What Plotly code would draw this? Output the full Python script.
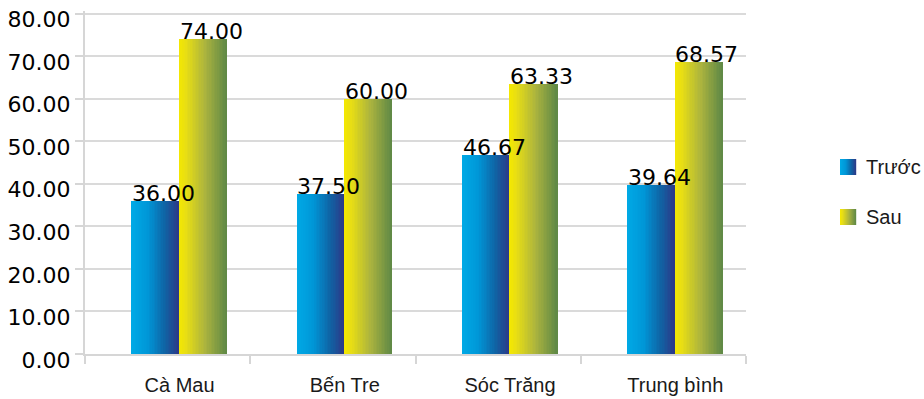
import plotly.graph_objects as go

categories = ["Cà Mau", "Bến Tre", "Sóc Trăng", "Trung bình"]
truoc = [36.00, 37.50, 46.67, 39.64]
sau = [74.00, 60.00, 63.33, 68.57]
series_names = ["Trước", "Sau"]

blue_stops = [(0.0, (0, 170, 230)), (0.35, (0, 150, 215)), (0.7, (15, 100, 165)), (1.0, (45, 56, 135))]
yellow_stops = [(0.0, (244, 232, 0)), (0.15, (232, 222, 20)), (0.55, (172, 180, 62)), (1.0, (94, 136, 70))]


def interp(stops, t):
    for (t0, c0), (t1, c1) in zip(stops[:-1], stops[1:]):
        if t <= t1:
            f = 0 if t1 == t0 else (t - t0) / (t1 - t0)
            c = [round(a + (b - a) * f) for a, b in zip(c0, c1)]
            return "rgb(%d,%d,%d)" % tuple(c)
    return "rgb(%d,%d,%d)" % stops[-1][1]


N = 30
bar_w = 0.2875
xpos = list(range(len(categories)))
fig = go.Figure()

for vals, stops, start in [(truoc, blue_stops, -bar_w), (sau, yellow_stops, 0.0)]:
    sw = bar_w / N
    for k in range(N):
        t = (k + 0.5) / N
        fig.add_trace(go.Bar(
            x=[i + start + (k + 0.5) * sw for i in xpos],
            y=vals,
            width=sw * 1.15,
            marker=dict(color=interp(stops, t), line=dict(width=0)),
            showlegend=False,
            hoverinfo="skip",
        ))

# value labels
for vals, start in [(truoc, -bar_w), (sau, 0.0)]:
    for i, v in zip(xpos, vals):
        fig.add_annotation(
            x=i + start, y=v, xref="x", yref="y",
            text="%.2f" % v, showarrow=False,
            xanchor="left", yanchor="bottom", yshift=-7, xshift=-2,
            font=dict(family="DejaVu Sans", size=22, color="#000000"),
        )

# geometry: 80 at y=14px, 0 at y=354px, range top extended slightly
W, H = 924, 399
y_top = 80.6
k_px = (354 - 14) / 80.0
mt = int(round(14 - (y_top - 80) * k_px))
ml, mr, mb = 85, 178, 45
pw, ph = W - ml - mr, H - mt - mb


def px2paper(x, y):
    return (x - ml) / pw, 1 - (y - mt) / ph


for name, stops, ytop in [(series_names[0], blue_stops, 159), (series_names[1], yellow_stops, 209)]:
    M = 16
    for k in range(M):
        x0, y0 = px2paper(840 + k, ytop)
        x1, y1 = px2paper(840 + k + 1.2, ytop + 16)
        fig.add_shape(type="rect", xref="paper", yref="paper",
                      x0=x0, x1=x1, y0=y1, y1=y0,
                      line=dict(width=0), fillcolor=interp(stops, (k + 0.5) / M))
    tx, ty = px2paper(864, ytop + 8)
    fig.add_annotation(x=tx, y=ty, xref="paper", yref="paper", text=name,
                       showarrow=False, xanchor="left", yanchor="middle",
                       font=dict(family="Liberation Sans", size=20, color="#1a1a1a"))

fig.update_layout(
    width=W, height=H,
    margin=dict(l=ml, r=mr, t=mt, b=mb, autoexpand=False),
    paper_bgcolor="white", plot_bgcolor="white",
    barmode="overlay", bargap=0,
    showlegend=False,
)
fig.update_xaxes(
    range=[-0.572, len(categories) - 0.572],
    tickvals=xpos, ticktext=categories, ticks="",
    tickfont=dict(family="Liberation Sans", size=20, color="#1a1a1a"),
    ticklabelstandoff=12, automargin=False,
    showline=True, linecolor="#d6d6d6", linewidth=2,
    showgrid=False, zeroline=False,
    minor=dict(tickvals=[i - 0.572 for i in range(len(categories) + 1)],
               ticks="outside", ticklen=8, tickcolor="#d6d6d6", tickwidth=2, showgrid=False),
)
fig.update_yaxes(
    range=[0, y_top], tickvals=[0, 10, 20, 30, 40, 50, 60, 70, 80], tickformat=".2f",
    tickfont=dict(family="DejaVu Sans", size=22, color="#000000"),
    ticks="outside", ticklen=8, tickcolor="#d6d6d6", tickwidth=2,
    ticklabelstandoff=0, ticklabelshift=6, automargin=False,
    showline=True, linecolor="#d6d6d6", linewidth=2,
    showgrid=True, gridcolor="#dadada", gridwidth=2,
    zeroline=False,
)

fig.write_html("out.html")
